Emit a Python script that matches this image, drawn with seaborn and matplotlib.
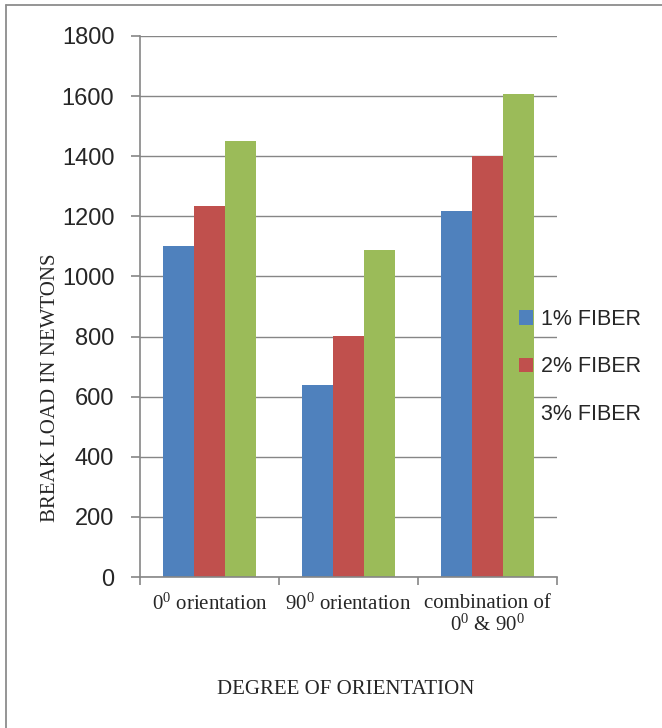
import numpy as np
import pandas as pd
import seaborn as sns
import matplotlib
matplotlib.use("Agg")
import matplotlib.pyplot as plt
from matplotlib.patches import Patch
from matplotlib.lines import Line2D

# values
groups = ["0$^{0}$ orientation", "90$^{0}$ orientation", "combination of\n0$^{0}$ & 90$^{0}$"]
series = ["1% FIBER", "2% FIBER", "3% FIBER"]
fiber1 = [1100, 638, 1218]
fiber2 = [1234, 802, 1402]
fiber3 = [1450, 1087, 1608]
colors = ["#4F81BD", "#C0504D", "#9BBB59"]

df = pd.DataFrame({
    "group": groups * 3,
    "series": [series[0]] * 3 + [series[1]] * 3 + [series[2]] * 3,
    "load": fiber1 + fiber2 + fiber3,
})

sns.set_style("white")
plt.rcParams["font.family"] = ["Liberation Sans", "DejaVu Sans"]
plt.rcParams["mathtext.fontset"] = "custom"
plt.rcParams["mathtext.rm"] = "Liberation Serif"
plt.rcParams["mathtext.it"] = "Liberation Serif"
plt.rcParams["mathtext.default"] = "rm"
serif = ["Liberation Serif", "DejaVu Serif"]
gray = "#868686"

fig = plt.figure(figsize=(6.62, 7.28), dpi=100)
ax = fig.add_axes([140 / 662, 1 - 577 / 728, 417 / 662, 541 / 728])

sns.barplot(data=df, x="group", y="load", hue="series", palette=colors,
            width=0.67, gap=0, linewidth=0, saturation=1, ax=ax, legend=False)

ax.set_ylim(0, 1800)
ax.set_yticks(np.arange(0, 1801, 200))
ax.set_xlim(-0.5, 2.5)
ax.yaxis.grid(True, color=gray, linewidth=1.0)
ax.set_axisbelow(True)
for s in ["top", "right"]:
    ax.spines[s].set_visible(False)
for s in ["left", "bottom"]:
    ax.spines[s].set_color(gray)
    ax.spines[s].set_linewidth(1.2)

ax.tick_params(axis="y", which="major", direction="out", length=6.5, color=gray,
               width=1.2, labelsize=17, left=True, pad=12)
ax.set_xticks([0, 1, 2])
ax.set_xticklabels(groups, fontsize=15, family=serif, linespacing=1.1)
ax.tick_params(axis="x", which="major", length=0, pad=12)
ax.set_xticks([-0.5, 0.5, 1.5, 2.5], minor=True)
ax.tick_params(axis="x", which="minor", direction="out", length=6, color=gray,
               width=1.2, bottom=True)

ax.set_xlabel("DEGREE OF ORIENTATION", fontsize=15, family=serif)
ax.xaxis.set_label_coords(0.493, -0.19)
ax.set_ylabel("BREAK LOAD IN NEWTONS", fontsize=15, family=serif)
ax.yaxis.set_label_coords(-0.193, 0.349)

handles = [Patch(facecolor=colors[0], linewidth=0), Patch(facecolor=colors[1], linewidth=0),
           Patch(facecolor="none", edgecolor="none", linewidth=0)]
leg = fig.legend(handles, series, loc="upper left", bbox_to_anchor=(519 / 662, 1 - 309 / 728),
                 bbox_transform=fig.transFigure, frameon=False, fontsize=15.5,
                 handlelength=0.64, handleheight=0.64, handletextpad=0.4,
                 labelspacing=1.22, borderpad=0, borderaxespad=0)

# page frame: top and left edges only
fig.add_artist(Line2D([5.5 / 662, 1], [1 - 4.5 / 728] * 2, transform=fig.transFigure,
                      color="#8C8C8C", linewidth=1.3))
fig.add_artist(Line2D([5.5 / 662] * 2, [0, 1 - 4.5 / 728], transform=fig.transFigure,
                      color="#8C8C8C", linewidth=1.3))

fig.savefig("out.png", dpi=100)
